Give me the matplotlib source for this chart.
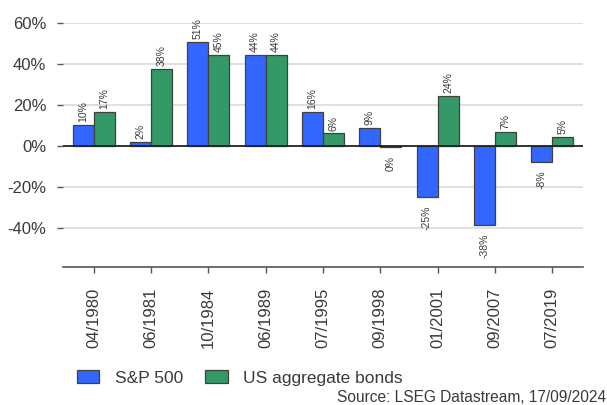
import numpy as np
import matplotlib
matplotlib.use("Agg")
from matplotlib import pyplot as plt

plt.rcParams['font.family'] = ['Liberation Sans', 'DejaVu Sans']

dates = ["04/1980", "06/1981", "10/1984", "06/1989", "07/1995",
         "09/1998", "01/2001", "09/2007", "07/2019"]
sp500 = [10.2, 2.0, 50.7, 44.3, 16.5, 8.8, -24.9, -38.4, -7.7]
bonds = [16.6, 37.6, 44.6, 44.4, 6.2, -0.4, 24.4, 7.0, 4.6]
yticks = [-40, -20, 0, 20, 40, 60]

BLUE = "#3366ff"
GREEN = "#339966"
TEXT = "#3a3a3a"

fig = plt.figure(figsize=(6.07, 4.05), dpi=100)
ax = fig.add_axes([63 / 607, 1 - 267 / 405, 520 / 607, 244 / 405])

x = np.arange(len(dates))
w = 0.367
b1 = ax.bar(x - w / 2, sp500, w, color=BLUE, edgecolor="#404040", linewidth=0.9,
            label="S&P 500", zorder=3)
b2 = ax.bar(x + w / 2, bonds, w, color=GREEN, edgecolor="#404040", linewidth=0.9,
            label="US aggregate bonds", zorder=3)

# value labels, rotated
for bars, vals in ((b1, sp500), (b2, bonds)):
    for rect, v in zip(bars, vals):
        cx = rect.get_x() + rect.get_width() / 2
        lab = f"{round(v):d}%"
        if v >= 0:
            ax.annotate(lab, (cx, v), xytext=(0, 2), textcoords="offset points",
                        rotation=90, ha="center", va="bottom", fontsize=7.5,
                        color=TEXT, annotation_clip=False)
        else:
            ax.annotate(lab, (cx, v), xytext=(0, -6.5), textcoords="offset points",
                        rotation=90, ha="center", va="top", fontsize=7.5,
                        color=TEXT, annotation_clip=False)

ax.set_xlim(-0.54, 8.54)
ax.set_ylim(-59, 60)
ax.set_yticks(yticks)
ax.set_yticklabels([f"{t}%" for t in yticks], fontsize=12, color=TEXT)
ax.set_xticks(x)
ax.set_xticklabels(dates, rotation=90, fontsize=12, color=TEXT)

for t in yticks:
    if t != 0:
        ax.axhline(t, color="#dadada", linewidth=1.2, zorder=1)
ax.axhline(0, color="#222222", linewidth=1.3, zorder=4)

for s in ("top", "right", "left"):
    ax.spines[s].set_visible(False)
ax.spines["bottom"].set_color("#555555")
ax.spines["bottom"].set_linewidth(1.2)
ax.tick_params(axis="y", length=4, width=1, color="#555555", pad=8)
ax.tick_params(axis="x", length=4, width=1, color="#555555", pad=11)

fig.legend(handles=[b1, b2], labels=["S&P 500", "US aggregate bonds"],
           loc="center left", bbox_to_anchor=(77 / 607, 27 / 405), ncol=2,
           frameon=False, fontsize=12.5, handlelength=1.27, handleheight=0.7,
           handletextpad=0.9, columnspacing=1.3, borderpad=0, borderaxespad=0,
           labelcolor=TEXT)

fig.text(0.998, 8 / 405, "Source: LSEG Datastream, 17/09/2024", ha="right",
         va="center", fontsize=11.2, color=TEXT)

fig.savefig("out.png", dpi=100)
